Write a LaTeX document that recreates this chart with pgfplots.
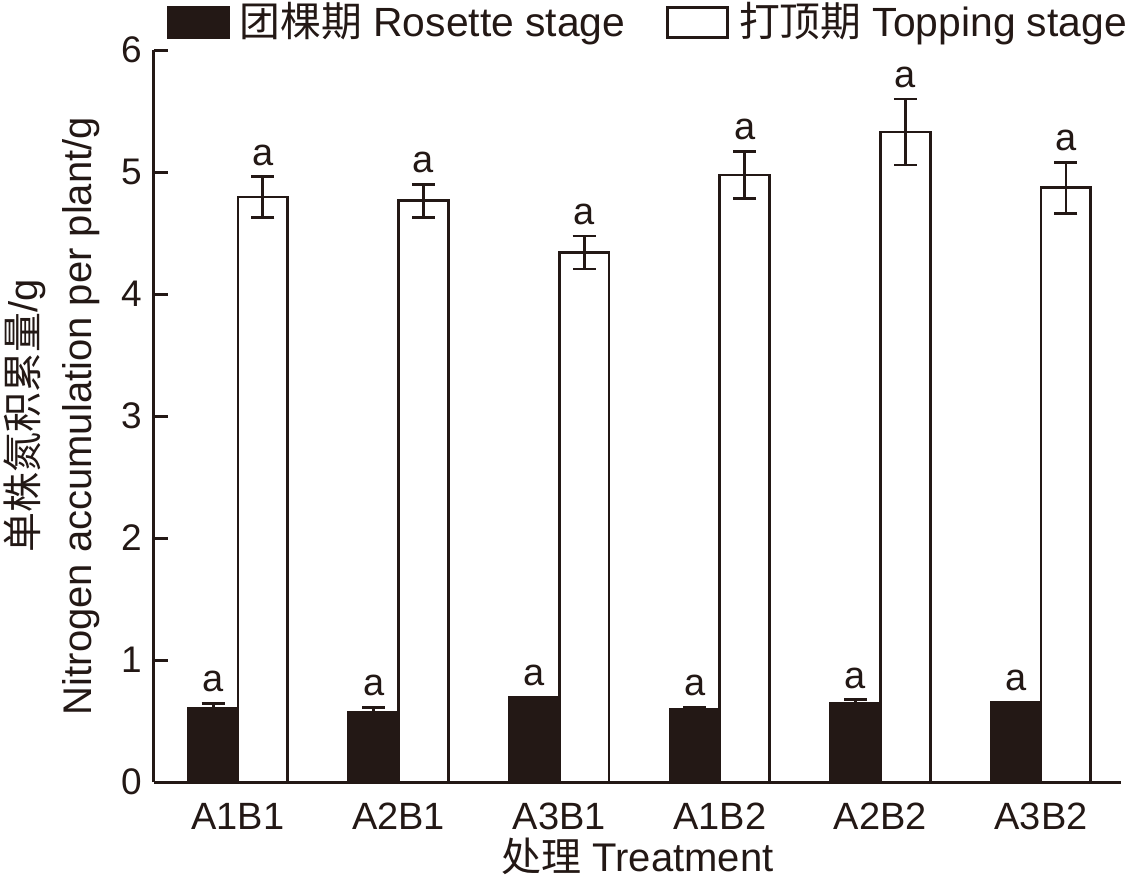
\documentclass[border=0pt]{standalone}
\usepackage{fontspec}
\setmainfont{Liberation Sans}
\newfontfamily\cjk{Noto Sans CJK SC}
\usepackage{pgfplots}
\pgfplotsset{compat=1.18}
\usetikzlibrary{calc}
\definecolor{ink}{RGB}{35,24,21}
\pgfplotsset{rectlegend/.style={legend image code/.code={\draw[##1, line width=1.4pt] (0pt,-7.5pt) rectangle (30pt,7.5pt);}}}
% x = group index shifted to the bar centre
\pgfplotstableread{
x y e
-0.155 0.607 0.035
0.845 0.574 0.040
1.845 0.697 0.000
2.845 0.598 0.012
3.845 0.647 0.027
4.845 0.656 0.000
}\rosette
\pgfplotstableread{
x y e
0.155 4.795 0.165
1.155 4.765 0.135
2.155 4.340 0.135
3.155 4.975 0.195
4.155 5.328 0.270
5.155 4.870 0.210
}\topping
\begin{document}
\fontsize{18}{21.6}\selectfont
\begin{tikzpicture}
\begin{axis}[
 name=ax,
 scale only axis, width=483.5pt, height=366pt,
 xmin=-0.523, xmax=5.498, ymin=0, ymax=6,
 axis x line=bottom, axis y line=left,
 axis line style={-, line width=1.5pt, ink},
 xtick={0,...,5}, xticklabels={A1B1,A2B1,A3B1,A1B2,A2B2,A3B2},
 xtick style={draw=none},
 ytick={0,...,6},
 tick align=inside,
 ytick style={line width=1.5pt, ink},
 major tick length=7pt,
 /pgf/number format/assume math mode=true,
 xticklabel style={yshift=-4.5pt, text=ink, font=\fontsize{19}{22.8}\selectfont},
 yticklabel style={text=ink, font=\fontsize{18.5}{22}\selectfont},
 xlabel={{\cjk 处理} Treatment},
 xlabel style={at={(axis description cs:0.5,0)}, anchor=north, yshift=-22pt, text=ink, font=\fontsize{20}{24}\selectfont},
 ylabel={{\cjk 单株氮积累量}/g\\[3pt]Nitrogen accumulation per plant/g},
 ylabel style={align=center, at={(axis description cs:-0.0434,0.5)}, anchor=south, text=ink, font=\fontsize{20}{24}\selectfont},
 legend style={draw=none, fill=none, at={(axis description cs:0.0134,1)}, anchor=south west, yshift=4pt, legend columns=2, inner sep=0pt, outer sep=0pt, nodes={inner sep=0pt, text=ink}, font=\fontsize{20.4}{24.5}\selectfont, /tikz/every odd column/.append style={column sep=5pt}, /tikz/every even column/.append style={column sep=20.5pt}},
 legend cell align=left,
 clip=false,
]
\addplot[ybar, bar width=0.31, bar shift=0, fill=ink, draw=ink, line width=1.4pt, rectlegend,
  error bars/.cd, y dir=both, y explicit,
  error bar style={line width=1.4pt, ink},
  error mark options={rotate=90, mark size=5.75pt, line width=1.4pt, ink}]
  table[x=x, y=y, y error=e] {\rosette};
\addlegendentry{{\cjk 团棵期} Rosette stage}
\addplot[ybar, bar width=0.31, bar shift=0, fill=white, draw=ink, line width=1.4pt, rectlegend,
  error bars/.cd, y dir=both, y explicit,
  error bar style={line width=1.4pt, ink},
  error mark options={rotate=90, mark size=5.75pt, line width=1.4pt, ink}]
  table[x=x, y=y, y error=e] {\topping};
\addlegendentry{{\cjk 打顶期} Topping stage}
\addplot[only marks, mark=*, mark size=0pt, mark options={draw=none, fill=none}, forget plot,
  nodes near coords={a}, nodes near coords style={anchor=south, inner sep=0pt, yshift=5.5pt, text=ink, font=\fontsize{19}{22.8}\selectfont}]
  coordinates {(-0.155,0.642) (0.845,0.614) (1.845,0.697) (2.845,0.610) (3.845,0.674) (4.845,0.656)
               (0.155,4.960) (1.155,4.900) (2.155,4.475) (3.155,5.170) (4.155,5.598) (5.155,5.080)};
\end{axis}
\pgfresetboundingbox
\path[use as bounding box] ($(ax.south west)+(-77pt,-48.5pt)$) rectangle ($(ax.south west)+(490pt,391pt)$);
\end{tikzpicture}
\end{document}
